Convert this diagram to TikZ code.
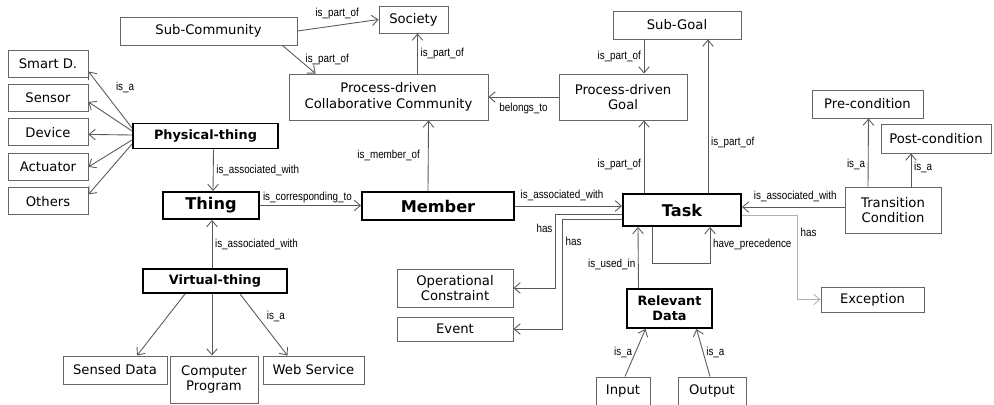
\documentclass[tikz,border=0pt]{standalone}
\usepackage{fontspec}
\setmainfont{DejaVu Sans}
\newfontfamily\lblfont[FakeStretch=0.85]{Liberation Sans}
\usetikzlibrary{arrows.meta,positioning,calc}

\tikzset{
  dims/.style 2 args={minimum width=#1*0.02cm, minimum height=#2*0.02cm},
  concept/.style={draw=black!60, line width=0.55pt, align=center, inner sep=1pt,
    font=\fontsize{7.5}{9}\selectfont},
  keynode/.style={draw=black, line width=1.1pt, align=center, inner sep=1pt,
    font=\bfseries\fontsize{7.3}{8.4}\selectfont},
  bignode/.style={keynode, font=\bfseries\fontsize{9.2}{10}\selectfont},
  link/.style={draw=black!65, line width=0.5pt, -{Straight Barb[length=3.5pt,width=6pt]}},
  lbl/.style={font=\lblfont\fontsize{6.6}{7.5}\selectfont, inner sep=1.5pt},
}

\begin{document}
\begin{tikzpicture}[x=0.02cm, y=-0.02cm]
  \useasboundingbox (0,0) rectangle (994,405);

  % things
  \node[concept, dims={80}{27}] (smart) at (48,63.5) {Smart D.};
  \node[concept, dims={80}{27}, below=0.13cm of smart] (sensor) {Sensor};
  \node[concept, dims={80}{27}, below=0.13cm of sensor] (device) {Device};
  \node[concept, dims={80}{27}, below=0.13cm of device] (actuator) {Actuator};
  \node[concept, dims={80}{27}, below=0.13cm of actuator] (others) {Others};
  \node[keynode, dims={145}{25}] (phys) at (205.5,136) {Physical-thing};
  \node[bignode, dims={96}{27}] (thing) at (211,205.5) {Thing};
  \node[keynode, dims={144}{24}] (virt) at (215,281) {Virtual-thing};
  \node[concept, dims={104}{28}] (sensed) at (115,370) {Sensed Data};
  \node[concept, dims={88}{47}] (comp) at (214,379.5) {Computer\\Program};
  \node[concept, dims={101}{28}] (web) at (313.5,370) {Web Service};

  % community
  \node[concept, dims={177}{28}] (subcomm) at (208.5,31) {Sub-Community};
  \node[concept, dims={69}{27}] (society) at (413.5,19.5) {Society};
  \node[concept, dims={199}{46}] (pcc) at (388.5,97) {Process-driven\\Collaborative Community};
  \node[bignode, dims={152}{28}] (member) at (438,206) {Member};

  % goals and tasks
  \node[concept, dims={128}{28}] (subgoal) at (677,25) {Sub-Goal};
  \node[concept, dims={128}{46}] (pdg) at (623,97) {Process-driven\\Goal};
  \node[bignode, dims={118}{32}] (task) at (682,210) {Task};
  \node[concept, dims={111}{28}] (pre) at (867.5,104) {Pre-condition};
  \node[concept, dims={110}{29}] (post) at (936,138.5) {Post-condition};
  \node[concept, dims={96}{46}] (trans) at (893,210) {Transition\\Condition};
  \node[concept, dims={103}{25}] (exc) at (872.5,299.5) {Exception};
  \node[concept, dims={116}{38}] (opc) at (455,288) {Operational\\Constraint};
  \node[concept, dims={116}{24}] (event) at (455,329) {Event};
  \node[keynode, dims={85}{39}] (reldata) at (669.5,308.5) {Relevant\\Data};
  \node[concept, dims={54}{28}] (input) at (623,391) {Input};
  \node[concept, dims={68}{28}] (output) at (712,391) {Output};

  \draw[link] ($(phys.west)+(0,-8)$) -- node[lbl, pos=0.72, right=7pt]{is\_a} ($(smart.east)+(0,8)$);
  \foreach \n/\dy/\ty in {sensor/-5/4, device/-1/2, actuator/4/0, others/8/-7}
    \draw[link] ($(phys.west)+(0,\dy)$) -- ($(\n.east)+(0,\ty)$);

  \draw[link] ($(phys.south)+(8,0)$) -- node[lbl, right]{is\_associated\_with} ($(thing.north)+(2,0)$);
  \draw[link] ($(virt.north)+(-3,0)$) -- node[lbl, right]{is\_associated\_with} ($(thing.south)+(1,0)$);
  \draw[link] ($(virt.south)+(-30,0)$) -- ($(sensed.north)+(22,0)$);
  \draw[link] ($(virt.south)+(-3,0)$) -- ($(comp.north)+(-2,0)$);
  \draw[link] ($(virt.south)+(25,0)$) -- node[lbl, above right]{is\_a} ($(web.north)+(-26,0)$);
  \draw[link] (thing.east) -- node[lbl, above right, pos=0]{is\_corresponding\_to} (thing.east -| member.west);

  \draw[link] ($(member.north)+(-10,0)$) -- node[lbl, left=3pt]{is\_member\_of} ($(pcc.south)+(40,0)$);
  \draw[link] (member.east) -- node[lbl, above=1pt, pos=0.44]{is\_associated\_with} (member.east -| task.west);
  \draw[link] (subcomm.east) -- node[lbl, above=2pt, pos=0.49]{is\_part\_of} (society.west);
  \draw[link] ($(subcomm.south)+(74,0)$) -- node[lbl, right=2pt, pos=0.5]{is\_part\_of} ($(pcc.north)+(-73,0)$);
  \draw[link] ($(pcc.north)+(29,0)$) -- node[lbl, right]{is\_part\_of} ($(society.south)+(4,0)$);
  \draw[link] (pdg.west) -- node[lbl, below=2pt]{belongs\_to} (pdg.west -| pcc.east);

  \draw[link] ($(subgoal.south)+(-33,0)$) -- node[lbl, left]{is\_part\_of} ($(pdg.north)+(21,0)$);
  \draw[link] ($(task.north)+(-38,0)$) -- node[lbl, left, pos=0.39]{is\_part\_of} ($(pdg.south)+(21,0)$);
  \draw[link] ($(task.north)+(26,0)$) -- node[lbl, right, pos=0.33]{is\_part\_of} ($(subgoal.south)+(31,0)$);
  \draw[link] ($(trans.west)+(0,-3)$) -- node[lbl, above=1pt, pos=0.48]{is\_associated\_with} ($(trans.west -| task.east)+(0,-3)$);
  \draw[link] ($(trans.north)+(-25,0)$) -- node[lbl, left, pos=0.32]{is\_a} ($(pre.south)+(1,0)$);
  \draw[link] ($(trans.north)+(18,0)$) -- node[lbl, right, pos=0.59]{is\_a} ($(post.south)+(-25,0)$);

  \draw[link] ($(task.south)+(-30,0)$) -- ++(0,36) -| node[lbl, right, pos=0.75]{have\_precedence} ($(task.south)+(28,0)$);
  \draw[link] ($(task.west)+(0,4)$) -| node[lbl, left, pos=0.6]{has} ($(opc.east)+(42,0)$) -- (opc.east);
  \draw[link] ($(task.west)+(0,9)$) -| node[lbl, right, pos=0.6]{has} ($(event.east)+(49,0)$) -- (event.east);
  \draw[link, draw=black!30] ($(task.east)+(0,5)$) -| node[lbl, right, pos=0.6]{has} ($(exc.west)+(-23,0)$) -- (exc.west);

  \draw[link] ($(reldata.north)+(-31,0)$) -- node[lbl, left, pos=0.38]{is\_used\_in} ($(task.south)+(-44,0)$);
  \draw[link] ($(input.north)+(2,0)$) -- node[lbl, left]{is\_a} ($(reldata.south)+(-24,0)$);
  \draw[link] ($(output.north)+(-2,0)$) -- node[lbl, right]{is\_a} ($(reldata.south)+(27,0)$);
\end{tikzpicture}
\end{document}
